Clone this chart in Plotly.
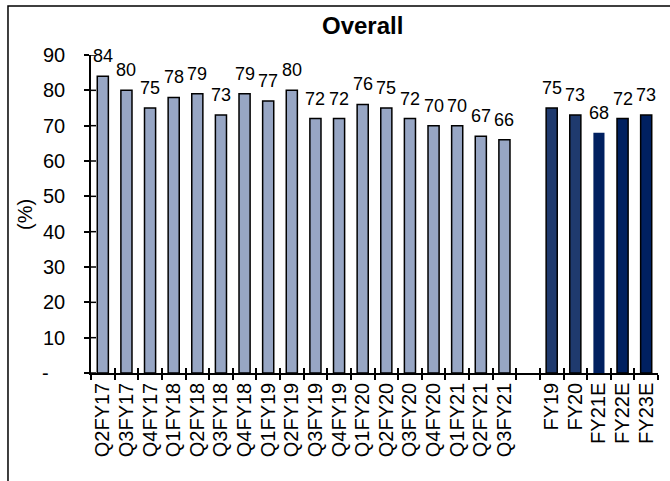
import plotly.graph_objects as go

quarters = ["Q2FY17", "Q3FY17", "Q4FY17", "Q1FY18", "Q2FY18", "Q3FY18", "Q4FY18",
            "Q1FY19", "Q2FY19", "Q3FY19", "Q4FY19", "Q1FY20", "Q2FY20", "Q3FY20",
            "Q4FY20", "Q1FY21", "Q2FY21", "Q3FY21"]
quarter_values = [84, 80, 75, 78, 79, 73, 79, 77, 80, 72, 72, 76, 75, 72, 70, 70, 67, 66]

gap = [" "]

years = ["FY19", "FY20", "FY21E", "FY22E", "FY23E"]
year_values = [75, 73, 68, 72, 73]

year_colors = ["#1F3A6E", "#1F3A6E", "#002060", "#002060", "#002060"]
year_line_widths = [1.5, 1.5, 0, 1.5, 1.5]

y_ticks = [0, 10, 20, 30, 40, 50, 60, 70, 80, 90]
y_tick_text = ["-\u00a0\u00a0\u00a0"] + [str(v) for v in y_ticks[1:]]

categories = quarters + gap + years

FONT = "Liberation Sans, Arial, sans-serif"

fig = go.Figure()
fig.add_trace(go.Bar(
    x=quarters, y=quarter_values,
    marker=dict(color="#97A6C4", line=dict(color="black", width=1.5)),
    hoverinfo="x+y",
))
fig.add_trace(go.Bar(
    x=years, y=year_values,
    marker=dict(color=year_colors, line=dict(color="black", width=year_line_widths)),
    hoverinfo="x+y",
))
# invisible trace to drive the overlay x axis (inner half of crossing tick marks)
fig.add_trace(go.Scatter(
    x=categories, y=[0] * len(categories), xaxis="x2", yaxis="y2",
    mode="markers", marker=dict(opacity=0), hoverinfo="skip", showlegend=False,
))

annotations = []
for cat, val in list(zip(quarters, quarter_values)) + list(zip(years, year_values)):
    annotations.append(dict(
        x=cat, y=val, xref="x", yref="y", text=str(val), showarrow=False,
        yanchor="bottom", xanchor="center", yshift=8,
        font=dict(family=FONT, size=18, color="black"),
    ))

annotations.append(dict(
    x=0.478, y=1.094, xref="paper", yref="paper", text="<b>Overall</b>",
    showarrow=False, xanchor="center", yanchor="middle",
    font=dict(family=FONT, size=24, color="black"),
))
annotations.append(dict(
    x=-0.1164, y=0.497, xref="paper", yref="paper", text="(%)",
    showarrow=False, xanchor="center", yanchor="middle", textangle=-90,
    font=dict(family=FONT, size=20, color="black"),
))

shapes = [dict(
    type="rect", xref="paper", yref="paper",
    x0=-0.1464, x1=1.05, y0=-0.4, y1=1.154,
    line=dict(color="black", width=1.5), fillcolor="rgba(0,0,0,0)", layer="below",
)]
# inner half of the crossing y tick marks
for v in y_ticks:
    shapes.append(dict(
        type="line", xref="paper", xsizemode="pixel", xanchor=0, x0=0, x1=5,
        yref="y", y0=v, y1=v, line=dict(color="black", width=1.5), layer="above",
    ))

fig.update_layout(
    width=670, height=481,
    margin=dict(l=91, r=12, t=55, b=108, autoexpand=False),
    paper_bgcolor="white", plot_bgcolor="white",
    barmode="overlay", bargap=0.53, showlegend=False,
    font=dict(family=FONT, size=20, color="black"),
    annotations=annotations,
    shapes=shapes,
    xaxis=dict(
        type="category", categoryorder="array", categoryarray=categories,
        range=[-0.5, len(categories) - 0.5], automargin=False,
        tickmode="linear", tick0=0, dtick=1,
        showline=True, linecolor="black", linewidth=1.5,
        ticks="outside", tickson="boundaries", ticklen=5, tickwidth=1.5, tickcolor="black",
        tickangle=-90, tickfont=dict(family=FONT, size=20, color="black"),
        showgrid=False, zeroline=False,
    ),
    xaxis2=dict(
        type="category", categoryorder="array", categoryarray=categories,
        range=[-0.5, len(categories) - 0.5], overlaying="x", anchor="y2",
        side="bottom", automargin=False, tickmode="linear", tick0=0, dtick=1,
        showline=False, ticks="inside", tickson="boundaries", ticklen=5,
        tickwidth=1.5, tickcolor="black", showticklabels=False, showgrid=False,
        zeroline=False,
    ),
    yaxis=dict(
        range=[0, 90], tickvals=y_ticks, ticktext=y_tick_text, automargin=False,
        showline=True, linecolor="black", linewidth=1.5,
        ticks="outside", ticklen=5, tickwidth=1.5, tickcolor="black",
        ticklabelstandoff=15,
        tickfont=dict(family=FONT, size=20, color="black"),
        showgrid=False, zeroline=False,
    ),
    yaxis2=dict(
        range=[0, 90], overlaying="y", anchor="x2", side="left",
        automargin=False, showline=False, ticks="", showticklabels=False,
        showgrid=False, zeroline=False,
    ),
)

fig.write_html(
    "out.html",
    config={"displayModeBar": False},
    post_script="document.body.style.margin='0';document.body.style.overflow='hidden';",
)
